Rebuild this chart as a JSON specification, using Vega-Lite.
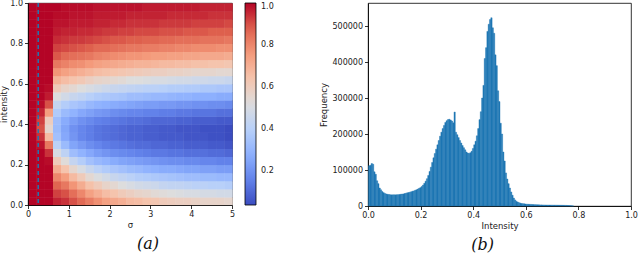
{
"$schema": "https://vega.github.io/schema/vega-lite/v6.json",
"background": "white",
"padding": {"left": -1, "top": -2, "right": 2, "bottom": 0},
"datasets": {
"heat": [
{"s":0.1,"i":0.02,"v":1},{"s":0.1,"i":0.06,"v":1},{"s":0.1,"i":0.1,"v":1},{"s":0.1,"i":0.14,"v":1},{"s":0.1,"i":0.18,"v":1},{"s":0.1,"i":0.22,"v":1},{"s":0.1,"i":0.26,"v":1},{"s":0.1,"i":0.3,"v":1},{"s":0.1,"i":0.34,"v":1},{"s":0.1,"i":0.38,"v":1},{"s":0.1,"i":0.42,"v":1},{"s":0.1,"i":0.46,"v":1},{"s":0.1,"i":0.5,"v":1},{"s":0.1,"i":0.54,"v":1},{"s":0.1,"i":0.58,"v":1},{"s":0.1,"i":0.62,"v":1},{"s":0.1,"i":0.66,"v":1},{"s":0.1,"i":0.7,"v":1},{"s":0.1,"i":0.74,"v":1},{"s":0.1,"i":0.78,"v":1},{"s":0.1,"i":0.82,"v":1},{"s":0.1,"i":0.86,"v":1},{"s":0.1,"i":0.9,"v":1},{"s":0.1,"i":0.94,"v":1},{"s":0.1,"i":0.98,"v":1},
{"s":0.3,"i":0.02,"v":1},{"s":0.3,"i":0.06,"v":1},{"s":0.3,"i":0.1,"v":1},{"s":0.3,"i":0.14,"v":1},{"s":0.3,"i":0.18,"v":1},{"s":0.3,"i":0.22,"v":1},{"s":0.3,"i":0.26,"v":1},{"s":0.3,"i":0.3,"v":0.98},{"s":0.3,"i":0.34,"v":0.94},{"s":0.3,"i":0.38,"v":0.9},{"s":0.3,"i":0.42,"v":0.92},{"s":0.3,"i":0.46,"v":0.96},{"s":0.3,"i":0.5,"v":0.99},{"s":0.3,"i":0.54,"v":1},{"s":0.3,"i":0.58,"v":1},{"s":0.3,"i":0.62,"v":1},{"s":0.3,"i":0.66,"v":1},{"s":0.3,"i":0.7,"v":1},{"s":0.3,"i":0.74,"v":1},{"s":0.3,"i":0.78,"v":1},{"s":0.3,"i":0.82,"v":1},{"s":0.3,"i":0.86,"v":1},{"s":0.3,"i":0.9,"v":1},{"s":0.3,"i":0.94,"v":1},{"s":0.3,"i":0.98,"v":1},
{"s":0.5,"i":0.02,"v":1},{"s":0.5,"i":0.06,"v":1},{"s":0.5,"i":0.1,"v":1},{"s":0.5,"i":0.14,"v":1},{"s":0.5,"i":0.18,"v":1},{"s":0.5,"i":0.22,"v":0.99},{"s":0.5,"i":0.26,"v":0.94},{"s":0.5,"i":0.3,"v":0.83},{"s":0.5,"i":0.34,"v":0.67},{"s":0.5,"i":0.38,"v":0.56},{"s":0.5,"i":0.42,"v":0.6},{"s":0.5,"i":0.46,"v":0.75},{"s":0.5,"i":0.5,"v":0.9},{"s":0.5,"i":0.54,"v":0.97},{"s":0.5,"i":0.58,"v":0.99},{"s":0.5,"i":0.62,"v":1},{"s":0.5,"i":0.66,"v":1},{"s":0.5,"i":0.7,"v":1},{"s":0.5,"i":0.74,"v":1},{"s":0.5,"i":0.78,"v":1},{"s":0.5,"i":0.82,"v":1},{"s":0.5,"i":0.86,"v":1},{"s":0.5,"i":0.9,"v":1},{"s":0.5,"i":0.94,"v":1},{"s":0.5,"i":0.98,"v":1},
{"s":0.7,"i":0.02,"v":0.96},{"s":0.7,"i":0.06,"v":0.92},{"s":0.7,"i":0.1,"v":0.87},{"s":0.7,"i":0.14,"v":0.8},{"s":0.7,"i":0.18,"v":0.71},{"s":0.7,"i":0.22,"v":0.61},{"s":0.7,"i":0.26,"v":0.5},{"s":0.7,"i":0.3,"v":0.41},{"s":0.7,"i":0.34,"v":0.34},{"s":0.7,"i":0.38,"v":0.32},{"s":0.7,"i":0.42,"v":0.33},{"s":0.7,"i":0.46,"v":0.38},{"s":0.7,"i":0.5,"v":0.44},{"s":0.7,"i":0.54,"v":0.52},{"s":0.7,"i":0.58,"v":0.61},{"s":0.7,"i":0.62,"v":0.69},{"s":0.7,"i":0.66,"v":0.77},{"s":0.7,"i":0.7,"v":0.83},{"s":0.7,"i":0.74,"v":0.89},{"s":0.7,"i":0.78,"v":0.92},{"s":0.7,"i":0.82,"v":0.95},{"s":0.7,"i":0.86,"v":0.97},{"s":0.7,"i":0.9,"v":0.98},{"s":0.7,"i":0.94,"v":0.99},{"s":0.7,"i":0.98,"v":1},
{"s":0.9,"i":0.02,"v":0.94},{"s":0.9,"i":0.06,"v":0.9},{"s":0.9,"i":0.1,"v":0.83},{"s":0.9,"i":0.14,"v":0.75},{"s":0.9,"i":0.18,"v":0.64},{"s":0.9,"i":0.22,"v":0.53},{"s":0.9,"i":0.26,"v":0.42},{"s":0.9,"i":0.3,"v":0.32},{"s":0.9,"i":0.34,"v":0.26},{"s":0.9,"i":0.38,"v":0.25},{"s":0.9,"i":0.42,"v":0.27},{"s":0.9,"i":0.46,"v":0.32},{"s":0.9,"i":0.5,"v":0.39},{"s":0.9,"i":0.54,"v":0.48},{"s":0.9,"i":0.58,"v":0.57},{"s":0.9,"i":0.62,"v":0.66},{"s":0.9,"i":0.66,"v":0.74},{"s":0.9,"i":0.7,"v":0.81},{"s":0.9,"i":0.74,"v":0.86},{"s":0.9,"i":0.78,"v":0.91},{"s":0.9,"i":0.82,"v":0.94},{"s":0.9,"i":0.86,"v":0.96},{"s":0.9,"i":0.9,"v":0.98},{"s":0.9,"i":0.94,"v":0.99},{"s":0.9,"i":0.98,"v":0.99},
{"s":1.1,"i":0.02,"v":0.9},{"s":1.1,"i":0.06,"v":0.85},{"s":1.1,"i":0.1,"v":0.77},{"s":1.1,"i":0.14,"v":0.67},{"s":1.1,"i":0.18,"v":0.56},{"s":1.1,"i":0.22,"v":0.44},{"s":1.1,"i":0.26,"v":0.33},{"s":1.1,"i":0.3,"v":0.25},{"s":1.1,"i":0.34,"v":0.21},{"s":1.1,"i":0.38,"v":0.2},{"s":1.1,"i":0.42,"v":0.23},{"s":1.1,"i":0.46,"v":0.29},{"s":1.1,"i":0.5,"v":0.36},{"s":1.1,"i":0.54,"v":0.45},{"s":1.1,"i":0.58,"v":0.55},{"s":1.1,"i":0.62,"v":0.64},{"s":1.1,"i":0.66,"v":0.72},{"s":1.1,"i":0.7,"v":0.79},{"s":1.1,"i":0.74,"v":0.85},{"s":1.1,"i":0.78,"v":0.9},{"s":1.1,"i":0.82,"v":0.93},{"s":1.1,"i":0.86,"v":0.96},{"s":1.1,"i":0.9,"v":0.97},{"s":1.1,"i":0.94,"v":0.98},{"s":1.1,"i":0.98,"v":0.99},
{"s":1.3,"i":0.02,"v":0.86},{"s":1.3,"i":0.06,"v":0.8},{"s":1.3,"i":0.1,"v":0.71},{"s":1.3,"i":0.14,"v":0.61},{"s":1.3,"i":0.18,"v":0.5},{"s":1.3,"i":0.22,"v":0.39},{"s":1.3,"i":0.26,"v":0.29},{"s":1.3,"i":0.3,"v":0.22},{"s":1.3,"i":0.34,"v":0.17},{"s":1.3,"i":0.38,"v":0.17},{"s":1.3,"i":0.42,"v":0.2},{"s":1.3,"i":0.46,"v":0.26},{"s":1.3,"i":0.5,"v":0.34},{"s":1.3,"i":0.54,"v":0.43},{"s":1.3,"i":0.58,"v":0.52},{"s":1.3,"i":0.62,"v":0.62},{"s":1.3,"i":0.66,"v":0.7},{"s":1.3,"i":0.7,"v":0.78},{"s":1.3,"i":0.74,"v":0.84},{"s":1.3,"i":0.78,"v":0.89},{"s":1.3,"i":0.82,"v":0.93},{"s":1.3,"i":0.86,"v":0.95},{"s":1.3,"i":0.9,"v":0.97},{"s":1.3,"i":0.94,"v":0.98},{"s":1.3,"i":0.98,"v":0.99},
{"s":1.5,"i":0.02,"v":0.82},{"s":1.5,"i":0.06,"v":0.74},{"s":1.5,"i":0.1,"v":0.65},{"s":1.5,"i":0.14,"v":0.55},{"s":1.5,"i":0.18,"v":0.45},{"s":1.5,"i":0.22,"v":0.34},{"s":1.5,"i":0.26,"v":0.26},{"s":1.5,"i":0.3,"v":0.19},{"s":1.5,"i":0.34,"v":0.15},{"s":1.5,"i":0.38,"v":0.15},{"s":1.5,"i":0.42,"v":0.18},{"s":1.5,"i":0.46,"v":0.24},{"s":1.5,"i":0.5,"v":0.31},{"s":1.5,"i":0.54,"v":0.4},{"s":1.5,"i":0.58,"v":0.5},{"s":1.5,"i":0.62,"v":0.59},{"s":1.5,"i":0.66,"v":0.68},{"s":1.5,"i":0.7,"v":0.76},{"s":1.5,"i":0.74,"v":0.83},{"s":1.5,"i":0.78,"v":0.88},{"s":1.5,"i":0.82,"v":0.92},{"s":1.5,"i":0.86,"v":0.95},{"s":1.5,"i":0.9,"v":0.97},{"s":1.5,"i":0.94,"v":0.98},{"s":1.5,"i":0.98,"v":0.99},
{"s":1.7,"i":0.02,"v":0.78},{"s":1.7,"i":0.06,"v":0.7},{"s":1.7,"i":0.1,"v":0.61},{"s":1.7,"i":0.14,"v":0.51},{"s":1.7,"i":0.18,"v":0.41},{"s":1.7,"i":0.22,"v":0.31},{"s":1.7,"i":0.26,"v":0.23},{"s":1.7,"i":0.3,"v":0.17},{"s":1.7,"i":0.34,"v":0.13},{"s":1.7,"i":0.38,"v":0.13},{"s":1.7,"i":0.42,"v":0.16},{"s":1.7,"i":0.46,"v":0.22},{"s":1.7,"i":0.5,"v":0.29},{"s":1.7,"i":0.54,"v":0.38},{"s":1.7,"i":0.58,"v":0.48},{"s":1.7,"i":0.62,"v":0.57},{"s":1.7,"i":0.66,"v":0.66},{"s":1.7,"i":0.7,"v":0.74},{"s":1.7,"i":0.74,"v":0.81},{"s":1.7,"i":0.78,"v":0.86},{"s":1.7,"i":0.82,"v":0.91},{"s":1.7,"i":0.86,"v":0.94},{"s":1.7,"i":0.9,"v":0.96},{"s":1.7,"i":0.94,"v":0.97},{"s":1.7,"i":0.98,"v":0.98},
{"s":1.9,"i":0.02,"v":0.74},{"s":1.9,"i":0.06,"v":0.66},{"s":1.9,"i":0.1,"v":0.57},{"s":1.9,"i":0.14,"v":0.48},{"s":1.9,"i":0.18,"v":0.38},{"s":1.9,"i":0.22,"v":0.29},{"s":1.9,"i":0.26,"v":0.21},{"s":1.9,"i":0.3,"v":0.15},{"s":1.9,"i":0.34,"v":0.12},{"s":1.9,"i":0.38,"v":0.12},{"s":1.9,"i":0.42,"v":0.15},{"s":1.9,"i":0.46,"v":0.21},{"s":1.9,"i":0.5,"v":0.28},{"s":1.9,"i":0.54,"v":0.37},{"s":1.9,"i":0.58,"v":0.46},{"s":1.9,"i":0.62,"v":0.56},{"s":1.9,"i":0.66,"v":0.65},{"s":1.9,"i":0.7,"v":0.73},{"s":1.9,"i":0.74,"v":0.8},{"s":1.9,"i":0.78,"v":0.86},{"s":1.9,"i":0.82,"v":0.9},{"s":1.9,"i":0.86,"v":0.93},{"s":1.9,"i":0.9,"v":0.96},{"s":1.9,"i":0.94,"v":0.97},{"s":1.9,"i":0.98,"v":0.98},
{"s":2.1,"i":0.02,"v":0.72},{"s":2.1,"i":0.06,"v":0.64},{"s":2.1,"i":0.1,"v":0.55},{"s":2.1,"i":0.14,"v":0.45},{"s":2.1,"i":0.18,"v":0.36},{"s":2.1,"i":0.22,"v":0.27},{"s":2.1,"i":0.26,"v":0.19},{"s":2.1,"i":0.3,"v":0.14},{"s":2.1,"i":0.34,"v":0.11},{"s":2.1,"i":0.38,"v":0.11},{"s":2.1,"i":0.42,"v":0.14},{"s":2.1,"i":0.46,"v":0.19},{"s":2.1,"i":0.5,"v":0.27},{"s":2.1,"i":0.54,"v":0.36},{"s":2.1,"i":0.58,"v":0.45},{"s":2.1,"i":0.62,"v":0.55},{"s":2.1,"i":0.66,"v":0.64},{"s":2.1,"i":0.7,"v":0.72},{"s":2.1,"i":0.74,"v":0.79},{"s":2.1,"i":0.78,"v":0.85},{"s":2.1,"i":0.82,"v":0.89},{"s":2.1,"i":0.86,"v":0.93},{"s":2.1,"i":0.9,"v":0.95},{"s":2.1,"i":0.94,"v":0.97},{"s":2.1,"i":0.98,"v":0.98},
{"s":2.3,"i":0.02,"v":0.7},{"s":2.3,"i":0.06,"v":0.61},{"s":2.3,"i":0.1,"v":0.52},{"s":2.3,"i":0.14,"v":0.43},{"s":2.3,"i":0.18,"v":0.34},{"s":2.3,"i":0.22,"v":0.25},{"s":2.3,"i":0.26,"v":0.18},{"s":2.3,"i":0.3,"v":0.13},{"s":2.3,"i":0.34,"v":0.1},{"s":2.3,"i":0.38,"v":0.1},{"s":2.3,"i":0.42,"v":0.13},{"s":2.3,"i":0.46,"v":0.18},{"s":2.3,"i":0.5,"v":0.26},{"s":2.3,"i":0.54,"v":0.35},{"s":2.3,"i":0.58,"v":0.44},{"s":2.3,"i":0.62,"v":0.54},{"s":2.3,"i":0.66,"v":0.63},{"s":2.3,"i":0.7,"v":0.71},{"s":2.3,"i":0.74,"v":0.78},{"s":2.3,"i":0.78,"v":0.84},{"s":2.3,"i":0.82,"v":0.89},{"s":2.3,"i":0.86,"v":0.92},{"s":2.3,"i":0.9,"v":0.95},{"s":2.3,"i":0.94,"v":0.97},{"s":2.3,"i":0.98,"v":0.98},
{"s":2.5,"i":0.02,"v":0.67},{"s":2.5,"i":0.06,"v":0.59},{"s":2.5,"i":0.1,"v":0.5},{"s":2.5,"i":0.14,"v":0.41},{"s":2.5,"i":0.18,"v":0.32},{"s":2.5,"i":0.22,"v":0.24},{"s":2.5,"i":0.26,"v":0.17},{"s":2.5,"i":0.3,"v":0.12},{"s":2.5,"i":0.34,"v":0.09},{"s":2.5,"i":0.38,"v":0.09},{"s":2.5,"i":0.42,"v":0.12},{"s":2.5,"i":0.46,"v":0.17},{"s":2.5,"i":0.5,"v":0.25},{"s":2.5,"i":0.54,"v":0.33},{"s":2.5,"i":0.58,"v":0.43},{"s":2.5,"i":0.62,"v":0.52},{"s":2.5,"i":0.66,"v":0.62},{"s":2.5,"i":0.7,"v":0.7},{"s":2.5,"i":0.74,"v":0.77},{"s":2.5,"i":0.78,"v":0.83},{"s":2.5,"i":0.82,"v":0.88},{"s":2.5,"i":0.86,"v":0.92},{"s":2.5,"i":0.9,"v":0.94},{"s":2.5,"i":0.94,"v":0.96},{"s":2.5,"i":0.98,"v":0.98},
{"s":2.7,"i":0.02,"v":0.66},{"s":2.7,"i":0.06,"v":0.57},{"s":2.7,"i":0.1,"v":0.48},{"s":2.7,"i":0.14,"v":0.39},{"s":2.7,"i":0.18,"v":0.31},{"s":2.7,"i":0.22,"v":0.23},{"s":2.7,"i":0.26,"v":0.16},{"s":2.7,"i":0.3,"v":0.11},{"s":2.7,"i":0.34,"v":0.09},{"s":2.7,"i":0.38,"v":0.09},{"s":2.7,"i":0.42,"v":0.12},{"s":2.7,"i":0.46,"v":0.17},{"s":2.7,"i":0.5,"v":0.24},{"s":2.7,"i":0.54,"v":0.33},{"s":2.7,"i":0.58,"v":0.42},{"s":2.7,"i":0.62,"v":0.52},{"s":2.7,"i":0.66,"v":0.61},{"s":2.7,"i":0.7,"v":0.69},{"s":2.7,"i":0.74,"v":0.77},{"s":2.7,"i":0.78,"v":0.83},{"s":2.7,"i":0.82,"v":0.88},{"s":2.7,"i":0.86,"v":0.91},{"s":2.7,"i":0.9,"v":0.94},{"s":2.7,"i":0.94,"v":0.96},{"s":2.7,"i":0.98,"v":0.98},
{"s":2.9,"i":0.02,"v":0.64},{"s":2.9,"i":0.06,"v":0.56},{"s":2.9,"i":0.1,"v":0.47},{"s":2.9,"i":0.14,"v":0.38},{"s":2.9,"i":0.18,"v":0.29},{"s":2.9,"i":0.22,"v":0.22},{"s":2.9,"i":0.26,"v":0.15},{"s":2.9,"i":0.3,"v":0.11},{"s":2.9,"i":0.34,"v":0.08},{"s":2.9,"i":0.38,"v":0.08},{"s":2.9,"i":0.42,"v":0.11},{"s":2.9,"i":0.46,"v":0.16},{"s":2.9,"i":0.5,"v":0.23},{"s":2.9,"i":0.54,"v":0.32},{"s":2.9,"i":0.58,"v":0.41},{"s":2.9,"i":0.62,"v":0.51},{"s":2.9,"i":0.66,"v":0.6},{"s":2.9,"i":0.7,"v":0.69},{"s":2.9,"i":0.74,"v":0.76},{"s":2.9,"i":0.78,"v":0.82},{"s":2.9,"i":0.82,"v":0.87},{"s":2.9,"i":0.86,"v":0.91},{"s":2.9,"i":0.9,"v":0.94},{"s":2.9,"i":0.94,"v":0.96},{"s":2.9,"i":0.98,"v":0.97},
{"s":3.1,"i":0.02,"v":0.63},{"s":3.1,"i":0.06,"v":0.54},{"s":3.1,"i":0.1,"v":0.46},{"s":3.1,"i":0.14,"v":0.37},{"s":3.1,"i":0.18,"v":0.28},{"s":3.1,"i":0.22,"v":0.21},{"s":3.1,"i":0.26,"v":0.14},{"s":3.1,"i":0.3,"v":0.1},{"s":3.1,"i":0.34,"v":0.08},{"s":3.1,"i":0.38,"v":0.08},{"s":3.1,"i":0.42,"v":0.1},{"s":3.1,"i":0.46,"v":0.16},{"s":3.1,"i":0.5,"v":0.23},{"s":3.1,"i":0.54,"v":0.31},{"s":3.1,"i":0.58,"v":0.41},{"s":3.1,"i":0.62,"v":0.5},{"s":3.1,"i":0.66,"v":0.59},{"s":3.1,"i":0.7,"v":0.68},{"s":3.1,"i":0.74,"v":0.75},{"s":3.1,"i":0.78,"v":0.82},{"s":3.1,"i":0.82,"v":0.87},{"s":3.1,"i":0.86,"v":0.91},{"s":3.1,"i":0.9,"v":0.94},{"s":3.1,"i":0.94,"v":0.96},{"s":3.1,"i":0.98,"v":0.97},
{"s":3.3,"i":0.02,"v":0.61},{"s":3.3,"i":0.06,"v":0.53},{"s":3.3,"i":0.1,"v":0.44},{"s":3.3,"i":0.14,"v":0.36},{"s":3.3,"i":0.18,"v":0.27},{"s":3.3,"i":0.22,"v":0.2},{"s":3.3,"i":0.26,"v":0.14},{"s":3.3,"i":0.3,"v":0.1},{"s":3.3,"i":0.34,"v":0.07},{"s":3.3,"i":0.38,"v":0.07},{"s":3.3,"i":0.42,"v":0.1},{"s":3.3,"i":0.46,"v":0.15},{"s":3.3,"i":0.5,"v":0.22},{"s":3.3,"i":0.54,"v":0.31},{"s":3.3,"i":0.58,"v":0.4},{"s":3.3,"i":0.62,"v":0.5},{"s":3.3,"i":0.66,"v":0.59},{"s":3.3,"i":0.7,"v":0.67},{"s":3.3,"i":0.74,"v":0.75},{"s":3.3,"i":0.78,"v":0.81},{"s":3.3,"i":0.82,"v":0.86},{"s":3.3,"i":0.86,"v":0.9},{"s":3.3,"i":0.9,"v":0.93},{"s":3.3,"i":0.94,"v":0.96},{"s":3.3,"i":0.98,"v":0.97},
{"s":3.5,"i":0.02,"v":0.6},{"s":3.5,"i":0.06,"v":0.52},{"s":3.5,"i":0.1,"v":0.43},{"s":3.5,"i":0.14,"v":0.35},{"s":3.5,"i":0.18,"v":0.27},{"s":3.5,"i":0.22,"v":0.19},{"s":3.5,"i":0.26,"v":0.13},{"s":3.5,"i":0.3,"v":0.09},{"s":3.5,"i":0.34,"v":0.07},{"s":3.5,"i":0.38,"v":0.07},{"s":3.5,"i":0.42,"v":0.1},{"s":3.5,"i":0.46,"v":0.15},{"s":3.5,"i":0.5,"v":0.22},{"s":3.5,"i":0.54,"v":0.3},{"s":3.5,"i":0.58,"v":0.39},{"s":3.5,"i":0.62,"v":0.49},{"s":3.5,"i":0.66,"v":0.58},{"s":3.5,"i":0.7,"v":0.67},{"s":3.5,"i":0.74,"v":0.74},{"s":3.5,"i":0.78,"v":0.81},{"s":3.5,"i":0.82,"v":0.86},{"s":3.5,"i":0.86,"v":0.9},{"s":3.5,"i":0.9,"v":0.93},{"s":3.5,"i":0.94,"v":0.95},{"s":3.5,"i":0.98,"v":0.97},
{"s":3.7,"i":0.02,"v":0.59},{"s":3.7,"i":0.06,"v":0.51},{"s":3.7,"i":0.1,"v":0.43},{"s":3.7,"i":0.14,"v":0.34},{"s":3.7,"i":0.18,"v":0.26},{"s":3.7,"i":0.22,"v":0.19},{"s":3.7,"i":0.26,"v":0.13},{"s":3.7,"i":0.3,"v":0.09},{"s":3.7,"i":0.34,"v":0.07},{"s":3.7,"i":0.38,"v":0.06},{"s":3.7,"i":0.42,"v":0.09},{"s":3.7,"i":0.46,"v":0.14},{"s":3.7,"i":0.5,"v":0.21},{"s":3.7,"i":0.54,"v":0.29},{"s":3.7,"i":0.58,"v":0.39},{"s":3.7,"i":0.62,"v":0.48},{"s":3.7,"i":0.66,"v":0.58},{"s":3.7,"i":0.7,"v":0.66},{"s":3.7,"i":0.74,"v":0.74},{"s":3.7,"i":0.78,"v":0.8},{"s":3.7,"i":0.82,"v":0.85},{"s":3.7,"i":0.86,"v":0.9},{"s":3.7,"i":0.9,"v":0.93},{"s":3.7,"i":0.94,"v":0.95},{"s":3.7,"i":0.98,"v":0.97},
{"s":3.9,"i":0.02,"v":0.59},{"s":3.9,"i":0.06,"v":0.5},{"s":3.9,"i":0.1,"v":0.42},{"s":3.9,"i":0.14,"v":0.33},{"s":3.9,"i":0.18,"v":0.25},{"s":3.9,"i":0.22,"v":0.18},{"s":3.9,"i":0.26,"v":0.12},{"s":3.9,"i":0.3,"v":0.08},{"s":3.9,"i":0.34,"v":0.06},{"s":3.9,"i":0.38,"v":0.06},{"s":3.9,"i":0.42,"v":0.09},{"s":3.9,"i":0.46,"v":0.14},{"s":3.9,"i":0.5,"v":0.21},{"s":3.9,"i":0.54,"v":0.29},{"s":3.9,"i":0.58,"v":0.38},{"s":3.9,"i":0.62,"v":0.48},{"s":3.9,"i":0.66,"v":0.57},{"s":3.9,"i":0.7,"v":0.66},{"s":3.9,"i":0.74,"v":0.73},{"s":3.9,"i":0.78,"v":0.8},{"s":3.9,"i":0.82,"v":0.85},{"s":3.9,"i":0.86,"v":0.89},{"s":3.9,"i":0.9,"v":0.93},{"s":3.9,"i":0.94,"v":0.95},{"s":3.9,"i":0.98,"v":0.97},
{"s":4.1,"i":0.02,"v":0.58},{"s":4.1,"i":0.06,"v":0.5},{"s":4.1,"i":0.1,"v":0.41},{"s":4.1,"i":0.14,"v":0.33},{"s":4.1,"i":0.18,"v":0.25},{"s":4.1,"i":0.22,"v":0.18},{"s":4.1,"i":0.26,"v":0.12},{"s":4.1,"i":0.3,"v":0.08},{"s":4.1,"i":0.34,"v":0.06},{"s":4.1,"i":0.38,"v":0.06},{"s":4.1,"i":0.42,"v":0.08},{"s":4.1,"i":0.46,"v":0.13},{"s":4.1,"i":0.5,"v":0.2},{"s":4.1,"i":0.54,"v":0.28},{"s":4.1,"i":0.58,"v":0.38},{"s":4.1,"i":0.62,"v":0.47},{"s":4.1,"i":0.66,"v":0.56},{"s":4.1,"i":0.7,"v":0.65},{"s":4.1,"i":0.74,"v":0.73},{"s":4.1,"i":0.78,"v":0.79},{"s":4.1,"i":0.82,"v":0.85},{"s":4.1,"i":0.86,"v":0.89},{"s":4.1,"i":0.9,"v":0.92},{"s":4.1,"i":0.94,"v":0.95},{"s":4.1,"i":0.98,"v":0.97},
{"s":4.3,"i":0.02,"v":0.57},{"s":4.3,"i":0.06,"v":0.49},{"s":4.3,"i":0.1,"v":0.41},{"s":4.3,"i":0.14,"v":0.32},{"s":4.3,"i":0.18,"v":0.24},{"s":4.3,"i":0.22,"v":0.17},{"s":4.3,"i":0.26,"v":0.12},{"s":4.3,"i":0.3,"v":0.08},{"s":4.3,"i":0.34,"v":0.06},{"s":4.3,"i":0.38,"v":0.05},{"s":4.3,"i":0.42,"v":0.08},{"s":4.3,"i":0.46,"v":0.13},{"s":4.3,"i":0.5,"v":0.2},{"s":4.3,"i":0.54,"v":0.28},{"s":4.3,"i":0.58,"v":0.37},{"s":4.3,"i":0.62,"v":0.47},{"s":4.3,"i":0.66,"v":0.56},{"s":4.3,"i":0.7,"v":0.65},{"s":4.3,"i":0.74,"v":0.72},{"s":4.3,"i":0.78,"v":0.79},{"s":4.3,"i":0.82,"v":0.84},{"s":4.3,"i":0.86,"v":0.89},{"s":4.3,"i":0.9,"v":0.92},{"s":4.3,"i":0.94,"v":0.95},{"s":4.3,"i":0.98,"v":0.96},
{"s":4.5,"i":0.02,"v":0.57},{"s":4.5,"i":0.06,"v":0.49},{"s":4.5,"i":0.1,"v":0.4},{"s":4.5,"i":0.14,"v":0.32},{"s":4.5,"i":0.18,"v":0.24},{"s":4.5,"i":0.22,"v":0.17},{"s":4.5,"i":0.26,"v":0.11},{"s":4.5,"i":0.3,"v":0.07},{"s":4.5,"i":0.34,"v":0.05},{"s":4.5,"i":0.38,"v":0.05},{"s":4.5,"i":0.42,"v":0.08},{"s":4.5,"i":0.46,"v":0.13},{"s":4.5,"i":0.5,"v":0.19},{"s":4.5,"i":0.54,"v":0.28},{"s":4.5,"i":0.58,"v":0.37},{"s":4.5,"i":0.62,"v":0.46},{"s":4.5,"i":0.66,"v":0.56},{"s":4.5,"i":0.7,"v":0.64},{"s":4.5,"i":0.74,"v":0.72},{"s":4.5,"i":0.78,"v":0.79},{"s":4.5,"i":0.82,"v":0.84},{"s":4.5,"i":0.86,"v":0.88},{"s":4.5,"i":0.9,"v":0.92},{"s":4.5,"i":0.94,"v":0.94},{"s":4.5,"i":0.98,"v":0.96},
{"s":4.7,"i":0.02,"v":0.57},{"s":4.7,"i":0.06,"v":0.48},{"s":4.7,"i":0.1,"v":0.4},{"s":4.7,"i":0.14,"v":0.31},{"s":4.7,"i":0.18,"v":0.23},{"s":4.7,"i":0.22,"v":0.16},{"s":4.7,"i":0.26,"v":0.11},{"s":4.7,"i":0.3,"v":0.07},{"s":4.7,"i":0.34,"v":0.05},{"s":4.7,"i":0.38,"v":0.05},{"s":4.7,"i":0.42,"v":0.07},{"s":4.7,"i":0.46,"v":0.12},{"s":4.7,"i":0.5,"v":0.19},{"s":4.7,"i":0.54,"v":0.27},{"s":4.7,"i":0.58,"v":0.36},{"s":4.7,"i":0.62,"v":0.46},{"s":4.7,"i":0.66,"v":0.55},{"s":4.7,"i":0.7,"v":0.64},{"s":4.7,"i":0.74,"v":0.72},{"s":4.7,"i":0.78,"v":0.78},{"s":4.7,"i":0.82,"v":0.84},{"s":4.7,"i":0.86,"v":0.88},{"s":4.7,"i":0.9,"v":0.92},{"s":4.7,"i":0.94,"v":0.94},{"s":4.7,"i":0.98,"v":0.96},
{"s":4.9,"i":0.02,"v":0.56},{"s":4.9,"i":0.06,"v":0.48},{"s":4.9,"i":0.1,"v":0.39},{"s":4.9,"i":0.14,"v":0.31},{"s":4.9,"i":0.18,"v":0.23},{"s":4.9,"i":0.22,"v":0.16},{"s":4.9,"i":0.26,"v":0.1},{"s":4.9,"i":0.3,"v":0.06},{"s":4.9,"i":0.34,"v":0.04},{"s":4.9,"i":0.38,"v":0.04},{"s":4.9,"i":0.42,"v":0.07},{"s":4.9,"i":0.46,"v":0.12},{"s":4.9,"i":0.5,"v":0.18},{"s":4.9,"i":0.54,"v":0.27},{"s":4.9,"i":0.58,"v":0.36},{"s":4.9,"i":0.62,"v":0.45},{"s":4.9,"i":0.66,"v":0.55},{"s":4.9,"i":0.7,"v":0.63},{"s":4.9,"i":0.74,"v":0.71},{"s":4.9,"i":0.78,"v":0.78},{"s":4.9,"i":0.82,"v":0.83},{"s":4.9,"i":0.86,"v":0.88},{"s":4.9,"i":0.9,"v":0.91},{"s":4.9,"i":0.94,"v":0.94},{"s":4.9,"i":0.98,"v":0.96}
],
"hist": [
{"b":0.0025,"c":112000},{"b":0.0075,"c":113000},{"b":0.0125,"c":118000},{"b":0.0175,"c":116000},{"b":0.0225,"c":95000},{"b":0.0275,"c":88000},{"b":0.0325,"c":70000},{"b":0.0375,"c":62000},{"b":0.0425,"c":50000},{"b":0.0475,"c":45000},
{"b":0.0525,"c":40000},{"b":0.0575,"c":37000},{"b":0.0625,"c":35000},{"b":0.0675,"c":33500},{"b":0.0725,"c":32500},{"b":0.0775,"c":32000},{"b":0.0825,"c":31500},{"b":0.0875,"c":31000},{"b":0.0925,"c":31000},{"b":0.0975,"c":31000},
{"b":0.1025,"c":31000},{"b":0.1075,"c":31500},{"b":0.1125,"c":31500},{"b":0.1175,"c":32000},{"b":0.1225,"c":32500},{"b":0.1275,"c":33000},{"b":0.1325,"c":33500},{"b":0.1375,"c":34500},{"b":0.1425,"c":35500},{"b":0.1475,"c":36500},
{"b":0.1525,"c":37500},{"b":0.1575,"c":38500},{"b":0.1625,"c":39500},{"b":0.1675,"c":41000},{"b":0.1725,"c":42000},{"b":0.1775,"c":43500},{"b":0.1825,"c":45000},{"b":0.1875,"c":47000},{"b":0.1925,"c":49000},{"b":0.1975,"c":51000},
{"b":0.2025,"c":54000},{"b":0.2075,"c":58000},{"b":0.2125,"c":63000},{"b":0.2175,"c":69000},{"b":0.2225,"c":76000},{"b":0.2275,"c":85000},{"b":0.2325,"c":96000},{"b":0.2375,"c":108000},{"b":0.2425,"c":121000},{"b":0.2475,"c":134000},
{"b":0.2525,"c":146000},{"b":0.2575,"c":158000},{"b":0.2625,"c":170000},{"b":0.2675,"c":182000},{"b":0.2725,"c":194000},{"b":0.2775,"c":205000},{"b":0.2825,"c":215000},{"b":0.2875,"c":224000},{"b":0.2925,"c":232000},{"b":0.2975,"c":237000},
{"b":0.3025,"c":240000},{"b":0.3075,"c":241000},{"b":0.3125,"c":239000},{"b":0.3175,"c":236000},{"b":0.3225,"c":231000},{"b":0.3275,"c":261000},{"b":0.3325,"c":205000},{"b":0.3375,"c":198000},{"b":0.3425,"c":190000},{"b":0.3475,"c":182000},
{"b":0.3525,"c":175000},{"b":0.3575,"c":168000},{"b":0.3625,"c":162000},{"b":0.3675,"c":156000},{"b":0.3725,"c":150000},{"b":0.3775,"c":147000},{"b":0.3825,"c":146000},{"b":0.3875,"c":148000},{"b":0.3925,"c":152000},{"b":0.3975,"c":160000},
{"b":0.4025,"c":170000},{"b":0.4075,"c":180000},{"b":0.4125,"c":195000},{"b":0.4175,"c":215000},{"b":0.4225,"c":240000},{"b":0.4275,"c":262000},{"b":0.4325,"c":300000},{"b":0.4375,"c":335000},{"b":0.4425,"c":410000},{"b":0.4475,"c":440000},
{"b":0.4525,"c":485000},{"b":0.4575,"c":505000},{"b":0.4625,"c":518000},{"b":0.4675,"c":523000},{"b":0.4725,"c":495000},{"b":0.4775,"c":480000},{"b":0.4825,"c":420000},{"b":0.4875,"c":390000},{"b":0.4925,"c":320000},{"b":0.4975,"c":290000},
{"b":0.5025,"c":230000},{"b":0.5075,"c":200000},{"b":0.5125,"c":150000},{"b":0.5175,"c":125000},{"b":0.5225,"c":92000},{"b":0.5275,"c":75000},{"b":0.5325,"c":62000},{"b":0.5375,"c":50000},{"b":0.5425,"c":39000},{"b":0.5475,"c":30000},
{"b":0.5525,"c":22000},{"b":0.5575,"c":17000},{"b":0.5625,"c":13000},{"b":0.5675,"c":11000},{"b":0.5725,"c":9300},{"b":0.5775,"c":8000},{"b":0.5825,"c":7000},{"b":0.5875,"c":6500},{"b":0.5925,"c":6000},{"b":0.5975,"c":5500},
{"b":0.6025,"c":5000},{"b":0.6075,"c":4800},{"b":0.6125,"c":4600},{"b":0.6175,"c":4400},{"b":0.6225,"c":4200},{"b":0.6275,"c":4000},{"b":0.6325,"c":3800},{"b":0.6375,"c":3600},{"b":0.6425,"c":3400},{"b":0.6475,"c":3200},
{"b":0.6525,"c":3100},{"b":0.6575,"c":3000},{"b":0.6625,"c":2900},{"b":0.6675,"c":2800},{"b":0.6725,"c":2700},{"b":0.6775,"c":2600},{"b":0.6825,"c":2500},{"b":0.6875,"c":2500},{"b":0.6925,"c":2400},{"b":0.6975,"c":2400},
{"b":0.7025,"c":2300},{"b":0.7075,"c":2300},{"b":0.7125,"c":2200},{"b":0.7175,"c":2200},{"b":0.7225,"c":2100},{"b":0.7275,"c":2000},{"b":0.7325,"c":2000},{"b":0.7375,"c":1900},{"b":0.7425,"c":1800},{"b":0.7475,"c":1700},
{"b":0.7525,"c":1600},{"b":0.7575,"c":1400},{"b":0.7625,"c":1200},{"b":0.7675,"c":900},{"b":0.7725,"c":600},{"b":0.7775,"c":300}
],
"mark": [{"sigma": 0.25}]
},
"hconcat": [
{
"width": 204, "height": 202,
"title": {"text": "(a)", "orient": "bottom", "anchor": "middle", "dx": 18, "offset": 7},
"layer": [
{"data": {"name": "heat"}, "mark": {"type": "rect"},
"encoding": {
"x": {"field": "s", "type": "quantitative", "bin": {"extent": [0, 5], "step": 0.2}, "scale": {"domain": [0, 5]}, "axis": {"values": [0, 1, 2, 3, 4, 5], "format": "d", "title": "σ", "titlePadding": 2}},
"y": {"field": "i", "type": "quantitative", "bin": {"extent": [0, 1], "step": 0.04}, "scale": {"domain": [0, 1]}, "axis": {"values": [0, 0.2, 0.4, 0.6, 0.8, 1], "format": ".1f", "title": "intensity", "titlePadding": 1}},
"color": {"field": "v", "type": "quantitative",
"scale": {"domain": [0.04, 0.16, 0.28, 0.40, 0.52, 0.64, 0.76, 0.88, 1.0], "range": ["#3b4cc0", "#6282ea", "#8db0fe", "#b8d0f9", "#dddddd", "#f5c4ad", "#f49a7b", "#de604d", "#b40426"], "interpolate": "rgb"},
"legend": {"type": "gradient", "title": null, "values": [0.2, 0.4, 0.6, 0.8, 1.0], "format": ".1f", "direction": "vertical", "orient": "right", "gradientLength": 202, "gradientThickness": 11, "offset": 13, "padding": 0, "labelFontSize": 8, "labelOffset": 5, "gradientStrokeColor": "black", "gradientStrokeWidth": 0.8}}
}},
{"data": {"name": "heat"}, "mark": {"type": "rect"},
"encoding": {
"x": {"field": "s", "type": "quantitative", "bin": {"extent": [0, 5], "step": 0.2}},
"y": {"field": "i", "type": "quantitative", "bin": {"extent": [0, 1], "step": 0.04}},
"color": {"field": "v", "type": "quantitative"}
}},
{
"data": {"name": "mark"},
"mark": {"type": "rule", "color": "#1f77b4", "strokeDash": [4, 3], "strokeWidth": 1.5, "opacity": 1},
"encoding": {"x": {"field": "sigma", "type": "quantitative"}}
}
]
},
{
"width": 263, "height": 203,
"data": {"name": "hist"},
"title": {"text": "(b)", "orient": "bottom", "anchor": "middle", "dx": -17, "offset": 7},
"mark": {"type": "bar", "color": "#1f77b4", "binSpacing": 0, "stroke": "#1f77b4", "strokeWidth": 0.4},
"encoding": {
"x": {"field": "b", "type": "quantitative", "bin": {"extent": [0, 1], "step": 0.005}, "scale": {"domain": [0, 1]}, "axis": {"values": [0, 0.2, 0.4, 0.6, 0.8, 1], "format": ".1f", "title": "Intensity", "titlePadding": 2}},
"y": {"aggregate": "sum", "field": "c", "type": "quantitative", "scale": {"domain": [0, 564000], "nice": false}, "axis": {"values": [0, 100000, 200000, 300000, 400000, 500000], "format": "d", "title": "Frequency"}}
}
}
],
"spacing": 44,
"resolve": {"scale": {"color": "independent"}, "legend": {"color": "independent"}},
"config": {
"font": "DejaVu Sans",
"view": {"stroke": "black", "strokeWidth": 0.8},
"axis": {"grid": false, "domainColor": "black", "domainWidth": 0.8, "tickColor": "black", "tickSize": 3.5, "tickWidth": 0.8, "labelFont": "DejaVu Sans", "labelFontSize": 8, "labelColor": "#222", "labelPadding": 2, "titleFont": "DejaVu Sans", "titleFontSize": 8.5, "titleFontWeight": "normal", "titleColor": "#222", "titlePadding": 3, "labelFlush": false},
"legend": {"labelFont": "DejaVu Sans", "labelColor": "#222"},
"title": {"font": "DejaVu Serif", "fontStyle": "italic", "fontSize": 16, "fontWeight": "normal", "color": "#111"}
}
}
